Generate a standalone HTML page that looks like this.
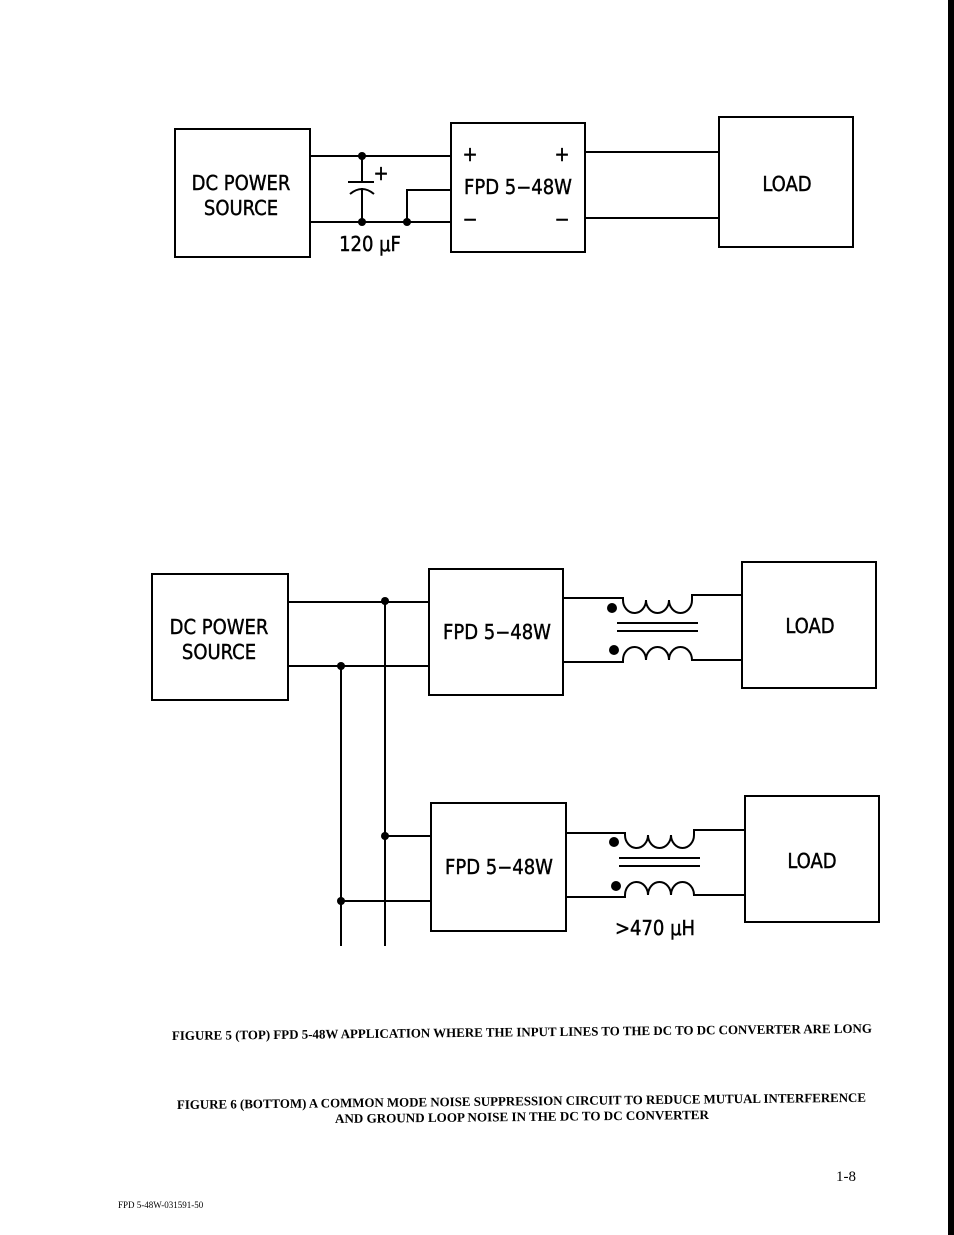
<!DOCTYPE html>
<html><head><meta charset="utf-8"><style>
html,body{margin:0;padding:0;background:#fff;}
svg{display:block;}
.t{font-family:"DejaVu Sans Condensed","Liberation Sans",sans-serif;font-size:20px;fill:#000;stroke:#000;stroke-width:0.4;}
.c{font-family:"Liberation Serif",serif;font-size:13px;font-weight:bold;fill:#000;}
</style></head><body>
<svg width="954" height="1235" viewBox="0 0 954 1235" xmlns="http://www.w3.org/2000/svg">
<rect x="948" y="0" width="6" height="1235" fill="#000"/>
<g fill="none" stroke="#000" stroke-width="2">
<rect x="175" y="129" width="135" height="128"/>
<rect x="451" y="123" width="134" height="129"/>
<rect x="719" y="117" width="134" height="130"/>
<path d="M310 156H451M310 222H451M362 156V181M348 182H374M350 194Q362 184 374 194M362 188V222M407 222V190H451M585 152H719M585 218H719"/>
<rect x="152" y="574" width="136" height="126"/>
<rect x="429" y="569" width="134" height="126"/>
<rect x="742" y="562" width="134" height="126"/>
<rect x="431" y="803" width="135" height="128"/>
<rect x="745" y="796" width="134" height="126"/>
<path d="M288 602H429M288 666H429M385 601V946M341 666V946M385 836H431M341 901H431"/>
<path d="M563 598H623V600A11.5 13 0 0 0 646 600A11.5 13 0 0 0 669 600A11.5 13 0 0 0 692 600V595H742"/>
<path d="M563 662H623V660A11.5 13 0 0 1 646 660A11.5 13 0 0 1 669 660A11.5 13 0 0 1 692 660V660H742"/>
<path d="M617 623H698M617 631H698"/>
<g transform="translate(2,235)">
<path d="M563 598H623V600A11.5 13 0 0 0 646 600A11.5 13 0 0 0 669 600A11.5 13 0 0 0 692 600V595H742"/>
<path d="M563 662H623V660A11.5 13 0 0 1 646 660A11.5 13 0 0 1 669 660A11.5 13 0 0 1 692 660V660H742"/>
<path d="M617 623H698M617 631H698"/>
</g>
</g>
<g fill="#000">
<circle cx="362" cy="156" r="4"/><circle cx="362" cy="222" r="4"/><circle cx="407" cy="222" r="4"/>
<circle cx="385" cy="601" r="4"/><circle cx="341" cy="666" r="4"/><circle cx="385" cy="836" r="4"/><circle cx="341" cy="901" r="4"/>
<circle cx="612" cy="608" r="5"/><circle cx="614" cy="650" r="5"/>
<circle cx="614" cy="842" r="5"/><circle cx="616" cy="886" r="5"/>
</g>
<g class="t" text-anchor="middle">
<text x="241" y="190">DC POWER</text><text x="241" y="215">SOURCE</text>
<text x="381" y="180">+</text>
<text x="470" y="161">+</text><text x="562" y="161">+</text>
<text x="518" y="194">FPD 5−48W</text>
<text x="470" y="226">−</text><text x="562" y="226">−</text>
<text x="787" y="191">LOAD</text>
<text x="370" y="251">120 μF</text>
<text x="219" y="634">DC POWER</text><text x="219" y="659">SOURCE</text>
<text x="497" y="639">FPD 5−48W</text>
<text x="810" y="633">LOAD</text>
<text x="499" y="874">FPD 5−48W</text>
<text x="812" y="868">LOAD</text>
<text x="655" y="935">&gt;470 μH</text>
</g>
<g class="c">
<text x="172" y="1040" textLength="700" lengthAdjust="spacingAndGlyphs" transform="rotate(-0.6 172 1040)">FIGURE 5  (TOP)  FPD 5-48W  APPLICATION WHERE THE INPUT LINES TO THE DC TO DC CONVERTER ARE LONG</text>
<text x="177" y="1109" textLength="689" lengthAdjust="spacingAndGlyphs" transform="rotate(-0.6 177 1109)">FIGURE 6  (BOTTOM)  A COMMON MODE NOISE SUPPRESSION CIRCUIT TO REDUCE MUTUAL INTERFERENCE</text>
<text x="335" y="1123" textLength="374" lengthAdjust="spacingAndGlyphs" transform="rotate(-0.6 335 1123)">AND GROUND LOOP NOISE IN THE DC TO DC CONVERTER</text>
<text x="836" y="1181" font-size="15" font-weight="normal">1-8</text>
<text x="118" y="1208" font-size="9" font-weight="normal">FPD 5-48W-031591-50</text>
</g>
</svg>
</body></html>
